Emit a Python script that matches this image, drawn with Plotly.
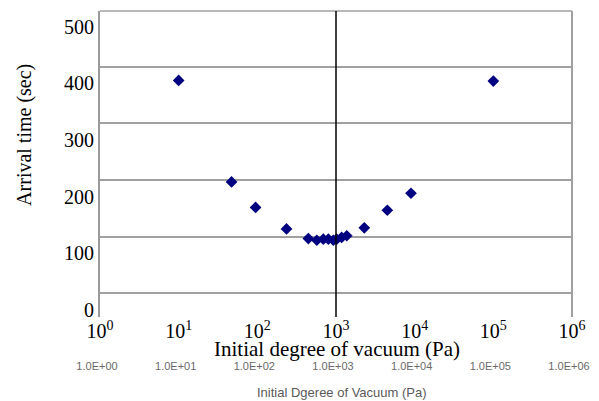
import plotly.graph_objects as go

# ---- data ----
pressure_pa = [10, 47, 95, 235, 445, 570, 690, 800, 925, 1020, 1180, 1370, 2290, 4490, 8980, 100000]
arrival_sec = [405, 226, 181, 143, 126, 123, 125, 125, 123, 125, 128, 131, 145, 176, 206, 404]

x_tick_vals = [1, 10, 100, 1000, 10000, 100000, 1000000]
x_tick_text = ["10<sup>0</sup>", "10<sup>1</sup>", "10<sup>2</sup>", "10<sup>3</sup>",
               "10<sup>4</sup>", "10<sup>5</sup>", "10<sup>6</sup>"]
x_tick_text_sci = ["1.0E+00", "1.0E+01", "1.0E+02", "1.0E+03", "1.0E+04", "1.0E+05", "1.0E+06"]
y_tick_vals = [0, 100, 200, 300, 400, 500]
y_tick_text = ["0", "100", "200", "300", "400", "500"]
ref_line_pa = 1000

# ---- styling ----
SERIF = "Times New Roman, Liberation Serif, serif"
SANS = "Arial, Liberation Sans, sans-serif"
Y_RANGE = [-12.4, 527.6]
GRID_OFFSET = 29.5
grid_vals = [v + GRID_OFFSET for v in y_tick_vals[:-1]]
GRID_COLOR = "#a0a0a0"

fig = go.Figure()
fig.add_trace(go.Scatter(
    x=pressure_pa, y=arrival_sec, mode="markers",
    marker=dict(symbol="diamond", size=9, color="#000080"),
    showlegend=False, xaxis="x", yaxis="y",
))
# empty trace to host the secondary (overlay) axes
fig.add_trace(go.Scatter(x=[], y=[], xaxis="x2", yaxis="y2", showlegend=False, hoverinfo="skip"))

fig.update_layout(
    width=591, height=393,
    margin=dict(l=92, r=27, t=3, b=84, autoexpand=False),
    plot_bgcolor="white", paper_bgcolor="white",
    xaxis=dict(type="log", range=[0, 6], tickvals=x_tick_vals, ticktext=x_tick_text,
               showgrid=False, zeroline=False, showline=False, ticks="", automargin=False,
               tickfont=dict(family=SERIF, size=20, color="black")),
    xaxis2=dict(type="log", range=[0, 6], overlaying="x", side="bottom", anchor="y",
                tickvals=x_tick_vals, ticktext=x_tick_text_sci, automargin=False,
                showgrid=False, zeroline=False, showline=False, ticks="",
                ticklabelstandoff=41, ticklabelshift=-3,
                tickfont=dict(family=SANS, size=11, color="#6a6a6a")),
    yaxis=dict(range=Y_RANGE, tickvals=y_tick_vals, ticktext=y_tick_text, automargin=False,
               showgrid=False, zeroline=False, showline=True, linecolor="#9a9a9a",
               linewidth=2, ticks="",
               tickfont=dict(family=SERIF, size=20, color="black")),
    yaxis2=dict(range=Y_RANGE, overlaying="y", anchor="x", tickvals=grid_vals, automargin=False,
                showgrid=True, gridcolor=GRID_COLOR, gridwidth=1.5,
                showticklabels=False, zeroline=False, showline=False, ticks=""),
    shapes=[
        dict(type="line", xref="paper", yref="paper", x0=0, x1=1, y0=1, y1=1,
             line=dict(color=GRID_COLOR, width=1.5)),
        dict(type="line", xref="paper", yref="paper", x0=1, x1=1, y0=0, y1=1,
             line=dict(color=GRID_COLOR, width=2)),
        dict(type="line", xref="x", yref="paper", x0=ref_line_pa, x1=ref_line_pa,
             y0=0, y1=1, line=dict(color="black", width=1.5)),
    ],
    annotations=[
        dict(text="Arrival time (sec)", xref="paper", yref="paper", x=-0.159, y=0.595,
             xanchor="center", yanchor="middle", textangle=-90, showarrow=False,
             font=dict(family=SERIF, size=20, color="black")),
        dict(text="Initial degree of vacuum (Pa)", xref="paper", yref="paper",
             x=0.502, y=-0.105, xanchor="center", yanchor="middle", showarrow=False,
             font=dict(family=SERIF, size=21, color="black")),
        dict(text="Initial Dgeree of Vacuum (Pa)", xref="paper", yref="paper",
             x=0.513, y=-0.248, xanchor="center", yanchor="middle", showarrow=False,
             font=dict(family=SANS, size=13, color="#5a5a5a")),
    ],
)

fig.write_html("out.html")
